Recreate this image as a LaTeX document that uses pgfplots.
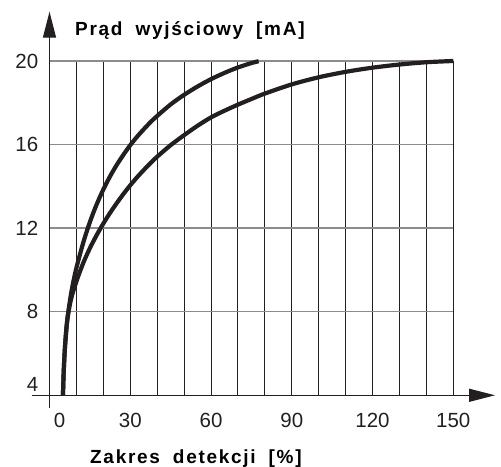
\documentclass[border=0pt]{standalone}
\usepackage{fontspec}
\setmainfont{Liberation Sans}
\newfontfamily\lblfont[LetterSpace=9]{Liberation Sans}
\usepackage{pgfplots}
\pgfplotsset{compat=1.18}
\usetikzlibrary{arrows.meta}
\definecolor{ink}{HTML}{231F20}
\definecolor{gridgray}{HTML}{8C8C8C}
\begin{document}
\begin{tikzpicture}
\begin{axis}[
  scale only axis, width=403.8bp, height=334.3bp,
  xmin=0, xmax=150, ymin=4, ymax=20,
  clip=false,
  axis line style={draw=none},
  major tick length=0pt, minor tick length=0pt,
  xtick={30,60,...,150},
  minor xtick={10,20,40,50,70,80,100,110,130,140},
  extra x ticks={0},
  extra x tick style={xticklabel style={xshift=10bp}},
  ytick={8,12,16,20},
  extra y ticks={4},
  extra y tick style={yticklabel style={yshift=11bp}, grid=none},
  xmajorgrids, xminorgrids, ymajorgrids,
  major x grid style={ink, line width=1bp},
  minor x grid style={ink, line width=1bp},
  major y grid style={gridgray, line width=1.3bp},
  /pgf/number format/assume math mode=true,
  tick label style={font=\fontsize{20.5bp}{24bp}\selectfont, text=ink, inner sep=0pt},
  xticklabel style={anchor=north, yshift=-17.5bp},
  yticklabel style={anchor=east, xshift=-11bp},
]
\addplot[ink, line width=4.2bp, smooth, tension=0.5] coordinates {
(5.0,4.0) (5.3,5.2) (5.8,6.4) (6.6,7.6) (7.8,8.7) (8.8,9.4) (10.0,10.1)
(12.5,11.29) (15.0,12.29) (17.5,13.13) (20.0,13.85) (22.5,14.48) (25.0,15.03)
(27.5,15.52) (30.0,15.97) (32.5,16.37) (35.0,16.73) (37.5,17.07) (40.0,17.37)
(45.0,17.92) (50.0,18.38) (55.0,18.78) (60.0,19.13) (65.0,19.43) (70.0,19.69)
(75.0,19.9) (77.7,19.99)
};
\addplot[ink, line width=4.2bp, smooth, tension=0.5] coordinates {
(5.0,4.0) (5.3,5.2) (5.8,6.4) (6.6,7.6) (8.0,8.6) (10.0,9.45) (12.5,10.32)
(15.0,11.04) (17.5,11.66) (20.0,12.22) (22.5,12.73) (25.0,13.2) (27.5,13.64)
(30.0,14.05) (32.5,14.43) (35.0,14.78) (37.5,15.11) (40.0,15.42) (45.0,15.97)
(50.0,16.45) (55.0,16.9) (60.0,17.3) (65.0,17.62) (70.0,17.91) (75.0,18.18)
(80.0,18.44) (90.0,18.88) (100.0,19.22) (110.0,19.48) (120.0,19.68)
(130.0,19.83) (140.0,19.94) (150.0,20.0)
};
\draw[ink, line width=1.3bp, -{Triangle[length=26bp,width=13bp]}] (axis cs:-6.61,4) -- (axis cs:165.5,4);
\draw[ink, line width=1.3bp, -{Triangle[length=26bp,width=13bp]}] (axis cs:0,3.39) -- (axis cs:0,22.36);
\node[anchor=base west, inner sep=0pt, text=black, font=\lblfont\bfseries\fontsize{19bp}{22bp}\selectfont]
  at (axis cs:9.47,21.24) {Prąd\hspace{6bp} wyjściowy\hspace{6bp} [mA]};
\node[anchor=base west, inner sep=0pt, text=black, font=\lblfont\bfseries\fontsize{19bp}{22bp}\selectfont]
  at (axis cs:15.04,0.712) {Zakres\hspace{6bp} detekcji\hspace{6bp} [\%]};
\coordinate (bbsw) at (axis cs:-18.388,0.569);
\coordinate (bbne) at (axis cs:167.72,22.919);
\end{axis}
\pgfresetboundingbox
\path[use as bounding box] (bbsw) rectangle (bbne);
\end{tikzpicture}
\end{document}
